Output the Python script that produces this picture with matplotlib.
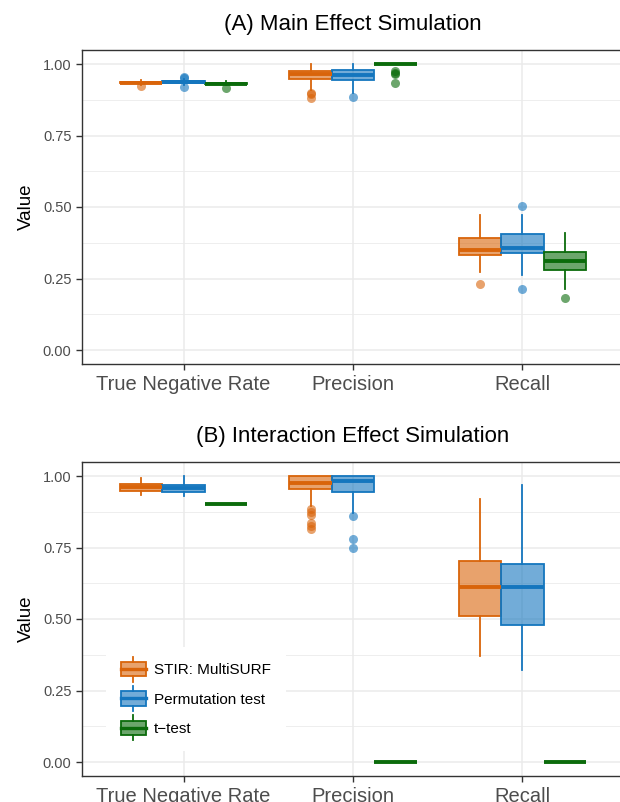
import matplotlib.pyplot as plt
from matplotlib.patches import Rectangle
from matplotlib.lines import Line2D
from matplotlib.legend_handler import HandlerBase
from matplotlib.colors import to_rgba

plt.rcParams['font.family'] = ['Liberation Sans', 'DejaVu Sans']

categories = ["True Negative Rate", "Precision", "Recall"]
methods = ["STIR: MultiSURF", "Permutation test", "t\u2212test"]
colors = ["#D9640A", "#1476BE", "#0B6B0B"]

# box stats per panel / method, one entry per category: (lo, q1, med, q3, hi)
a_stir_stats = [(0.928, 0.932, 0.934, 0.936, 0.945), (0.910, 0.948, 0.964, 0.977, 1.0), (0.272, 0.331, 0.350, 0.393, 0.472)]
a_stir_fliers = [[0.923], [0.900, 0.895, 0.880], [0.232]]
a_perm_stats = [(0.925, 0.932, 0.936, 0.940, 0.948), (0.900, 0.943, 0.962, 0.979, 1.0), (0.262, 0.339, 0.356, 0.404, 0.472)]
a_perm_fliers = [[0.955, 0.950, 0.920], [0.883], [0.503, 0.213]]
a_t_stats = [(0.927, 0.930, 0.931, 0.932, 0.940), (1.0, 1.0, 1.0, 1.0, 1.0), (0.212, 0.280, 0.312, 0.343, 0.410)]
a_t_fliers = [[0.917], [0.975, 0.970, 0.965, 0.935], [0.183]]

b_stir_stats = [(0.935, 0.946, 0.960, 0.971, 0.992), (0.895, 0.953, 0.977, 1.0, 1.0), (0.372, 0.510, 0.612, 0.703, 0.920)]
b_stir_fliers = [[], [0.885, 0.875, 0.865, 0.835, 0.825, 0.815], []]
b_perm_stats = [(0.930, 0.943, 0.957, 0.970, 1.0), (0.870, 0.945, 0.984, 1.0, 1.0), (0.320, 0.478, 0.612, 0.691, 0.970)]
b_perm_fliers = [[], [0.860, 0.780, 0.750], []]
b_t_stats = [(0.902, 0.902, 0.902, 0.902, 0.902), (0.0, 0.0, 0.0, 0.0, 0.0), (0.0, 0.0, 0.0, 0.0, 0.0)]
b_t_fliers = [[], [], []]

panels = [
    ("(A) Main Effect Simulation",
     [(a_stir_stats, a_stir_fliers), (a_perm_stats, a_perm_fliers), (a_t_stats, a_t_fliers)]),
    ("(B) Interaction Effect Simulation",
     [(b_stir_stats, b_stir_fliers), (b_perm_stats, b_perm_fliers), (b_t_stats, b_t_fliers)]),
]


class BoxKeyHandler(HandlerBase):
    # little boxplot glyph for the legend keys
    def create_artists(self, legend, orig_handle, xdescent, ydescent, width, height, fontsize, trans):
        c = orig_handle.get_color()
        x0 = -xdescent
        y0 = -ydescent
        cx = x0 + width / 2
        rect = Rectangle((x0, y0 - height * 0.05), width, height * 1.1,
                         facecolor=to_rgba(c, 0.6), edgecolor=c, lw=1.3, transform=trans)
        med = Line2D([x0, x0 + width], [y0 + height / 2] * 2, color=c, lw=2.4, transform=trans)
        top = Line2D([cx, cx], [y0 + height * 1.05, y0 + height * 1.45], color=c, lw=1.3, transform=trans)
        bot = Line2D([cx, cx], [y0 - height * 0.05, y0 - height * 0.45], color=c, lw=1.3, transform=trans)
        return [rect, med, top, bot]


fig = plt.figure(figsize=(6.2, 8.02), dpi=100)
ax_a = fig.add_axes([82 / 620, 437.7 / 802, 542 / 620, 314.6 / 802])
ax_b = fig.add_axes([82 / 620, 25.7 / 802, 542 / 620, 314.6 / 802])

offsets = [-0.25, 0.0, 0.25]
for ax, (title, series) in zip([ax_a, ax_b], panels):
    for k, (stats, fliers) in enumerate(series):
        c = colors[k]
        bxp_stats = []
        for (lo, q1, med, q3, hi), fl in zip(stats, fliers):
            bxp_stats.append(dict(whislo=lo, q1=q1, med=med, q3=q3, whishi=hi, fliers=fl))
        pos = [i + 1 + offsets[k] for i in range(len(categories))]
        ax.bxp(bxp_stats, positions=pos, widths=0.25, patch_artist=True, showcaps=False,
               boxprops=dict(facecolor=to_rgba(c, 0.6), edgecolor=c, lw=1.3),
               medianprops=dict(color=c, lw=2.8, solid_capstyle='butt'),
               whiskerprops=dict(color=c, lw=1.3),
               flierprops=dict(marker='o', markerfacecolor=to_rgba(c, 0.6), markeredgecolor='none', markersize=6.5),
               zorder=3)

    ax.set_xlim(0.4, 3.6)
    ax.set_ylim(-0.05, 1.05)
    ax.set_xticks([1, 2, 3])
    ax.set_xticklabels(categories, fontsize=14.5, color="#4D4D4D")
    ax.set_yticks([0, 0.25, 0.5, 0.75, 1.0])
    ax.set_yticklabels(["0.00", "0.25", "0.50", "0.75", "1.00"], fontsize=10.5, color="#4D4D4D")
    ax.set_yticks([0.125, 0.375, 0.625, 0.875], minor=True)
    ax.tick_params(axis='both', which='major', length=4, width=1, color="#333333")
    ax.tick_params(axis='y', which='minor', length=0)
    ax.grid(True, which='major', color="#EBEBEB", lw=1.1, zorder=0)
    ax.grid(True, which='minor', axis='y', color="#EBEBEB", lw=0.6, zorder=0)
    ax.set_axisbelow(True)
    for s in ax.spines.values():
        s.set_color("#333333")
        s.set_linewidth(1.0)
    ax.set_ylabel("Value", fontsize=13.5, labelpad=6)
    ax.set_title(title, fontsize=16, pad=14)

handles = [Line2D([], [], color=c) for c in colors]
leg = ax_b.legend(handles, methods, handler_map={Line2D: BoxKeyHandler()}, loc='lower left',
                  bbox_to_anchor=(0.03, 0.055), frameon=True, fontsize=11, handlelength=1.6,
                  handleheight=0.95, labelspacing=0.95, borderpad=1.0, handletextpad=0.55)
leg.get_frame().set_facecolor('white')
leg.get_frame().set_edgecolor('none')
leg.get_frame().set_alpha(1.0)
leg.set_zorder(5)

fig.savefig("out.png", dpi=100)
